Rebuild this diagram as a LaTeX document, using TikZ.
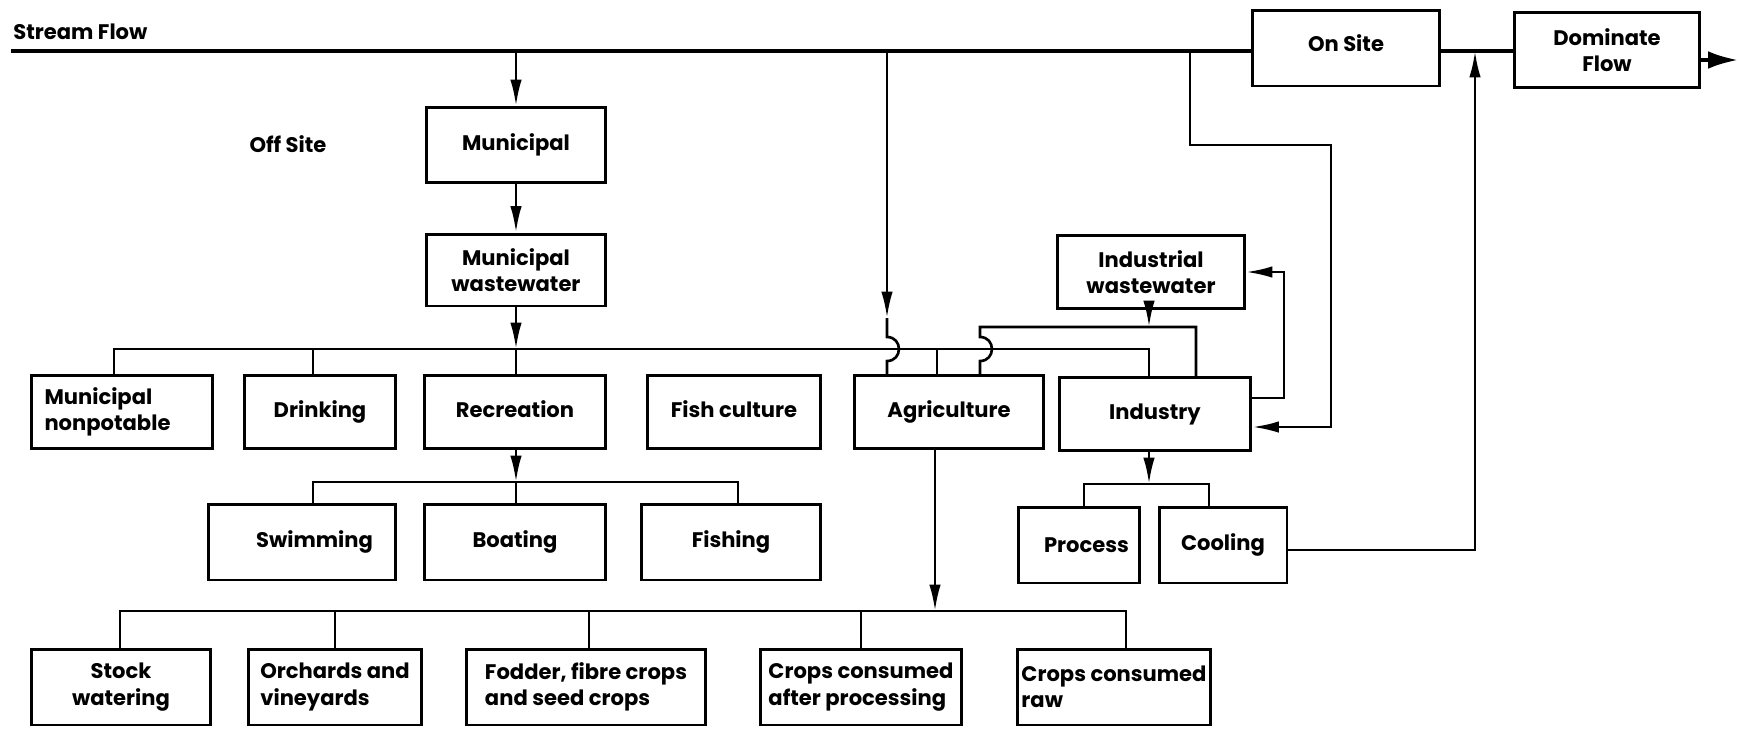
\documentclass[tikz,border=0pt]{standalone}
\usepackage{fontspec}
\setmainfont{Poppins}
\usetikzlibrary{arrows.meta}
\begin{document}
\begin{tikzpicture}[x=0.02cm,y=-0.02cm,line width=1.5pt,
  box/.style={draw,line width=1.7pt,inner sep=2pt,align=center,font=\bfseries\fontsize{12}{15}\selectfont},
  lbl/.style={font=\bfseries\fontsize{12}{15}\selectfont,inner sep=0pt},
  arr/.style={-{Latex[length=15pt,width=6.5pt]}},
  bigarr/.style={-{Latex[length=17pt,width=10pt]}},
  ]
\useasboundingbox (0,0) rectangle (1739,728);
% labels
\node[lbl,anchor=west] (sf) at (12,32) {Stream Flow};
\node[lbl] (offsite) at (288,144) {Off Site};
% top row
\node[box,minimum width=3.74cm,minimum height=1.52cm] (onsite) at (1346,48) {\raisebox{0.2cm}{On Site}};
\node[box,minimum width=3.7cm,minimum height=1.5cm] (dom) at (1607,50) {Dominate\\Flow};
\node[box,minimum width=3.6cm,minimum height=1.5cm] (mun) at (516,145) {Municipal};
\node[box,minimum width=3.6cm,minimum height=1.44cm] (munww) at (516,270) {Municipal\\wastewater};
\node[box,minimum width=3.74cm,minimum height=1.46cm] (indww) at (1151,272) {Industrial\\wastewater};
% row 2
\node[box,minimum width=3.64cm,minimum height=1.46cm,align=left] (nonpot) at (122,412) {\raisebox{0.1cm}{\parbox{3.1cm}{Municipal\\nonpotable}}};
\node[box,minimum width=3.04cm,minimum height=1.46cm] (drink) at (320,412) {\raisebox{0.1cm}{Drinking}};
\node[box,minimum width=3.62cm,minimum height=1.46cm] (recr) at (515,412) {\raisebox{0.1cm}{Recreation}};
\node[box,minimum width=3.46cm,minimum height=1.46cm] (fishc) at (734,412) {\raisebox{0.1cm}{Fish culture}};
\node[box,minimum width=3.8cm,minimum height=1.46cm] (agri) at (949,412) {\raisebox{0.1cm}{Agriculture}};
\node[box,minimum width=3.84cm,minimum height=1.46cm] (ind) at (1155,414) {\raisebox{0.1cm}{Industry}};
% row 3
\node[box,minimum width=3.76cm,minimum height=1.52cm] (swim) at (302,542) {\hspace{0.5cm}Swimming};
\node[box,minimum width=3.62cm,minimum height=1.52cm] (boat) at (515,542) {Boating};
\node[box,minimum width=3.58cm,minimum height=1.52cm] (fishing) at (731,542) {Fishing};
\node[box,minimum width=2.42cm,minimum height=1.52cm] (process) at (1079,545) {\hspace{0.3cm}Process};
\node[box,minimum width=2.56cm,minimum height=1.52cm] (cooling) at (1223,545) {Cooling};
% row 4
\node[box,minimum width=3.6cm,minimum height=1.52cm] (stock) at (121,687) {Stock\\watering};
\node[box,minimum width=3.46cm,minimum height=1.52cm,align=left] (orch) at (335,687) {Orchards and\\vineyards};
\node[box,minimum width=4.78cm,minimum height=1.52cm,align=left] (fodder) at (586,687) {Fodder, fibre crops\\and seed crops};
\node[box,minimum width=4.02cm,minimum height=1.52cm,align=left] (cafter) at (861,687) {Crops consumed\\after processing};
\node[box,minimum width=3.82cm,minimum height=1.52cm,align=left] (craw) at (1114,687) {Crops consumed\\raw\phantom{consumed}};
% coordinates
\coordinate (s0) at (11,51);
\coordinate (out) at (1738,60);
\coordinate (vm) at (516,51);
\coordinate (va) at (887,51);
\coordinate (vaT) at (887,318);
\coordinate (b1L) at (114,349);
\coordinate (b1R) at (1149,349);
\coordinate (b1m) at (516,349);
\coordinate (d2) at (313,349);
\coordinate (d5) at (937,349);
\coordinate (w1) at (980,327);
\coordinate (w2) at (1196,327);
\coordinate (wA) at (1149,327);
\coordinate (b2L) at (313,482);
\coordinate (b2R) at (738,482);
\coordinate (b2m) at (516,482);
\coordinate (b3L) at (1084,484);
\coordinate (b3R) at (1209,484);
\coordinate (b3m) at (1149,484);
\coordinate (b4L) at (120,611);
\coordinate (b4R) at (1126,611);
\coordinate (b4m) at (935,611);
\coordinate (d42) at (335,611);
\coordinate (d43) at (589,611);
\coordinate (d44) at (861,611);
\coordinate (o1) at (1190,51);
\coordinate (o2) at (1190,145);
\coordinate (o3) at (1331,145);
\coordinate (o4) at (1331,427);
\coordinate (r2) at (1284,398);
\coordinate (r3) at (1284,272);
\coordinate (c1) at (1475,550);
\coordinate (c2) at (1475,51);
% stream line
\draw[line width=2pt] (s0) -- (onsite.west |- s0);
\draw[line width=2pt] (onsite.east |- s0) -- (dom.west |- s0);
\draw[bigarr,line width=2pt] (dom.east |- out) -- (out);
% municipal chain
\draw[arr] (vm) -- (mun.north);
\draw[arr] (mun.south) -- (munww.north);
\draw[arr] (munww.south) -- (b1m);
\draw (b1m) -- (recr.north -| b1m);
% bus 1
\draw (nonpot.north -| b1L) -- (b1L) -- (b1R) -- (ind.north -| b1R);
\draw (d2) -- (drink.north -| d2);
\draw (d5) -- (agri.north -| d5);
% stream to agriculture with hop
\draw[arr] (va) -- (vaT);
\draw (vaT) -- (887,337) to[out=0,in=0,looseness=1.7] (887,361) -- (agri.north -| va);
% industrial wastewater
\draw[arr] (indww.south -| wA) -- (wA);
\draw (agri.north -| w1) -- (980,361) to[out=0,in=0,looseness=1.7] (980,337) -- (w1) -- (w2) -- (ind.north -| w2);
% recreation children
\draw[arr] (recr.south -| b2m) -- (b2m);
\draw (b2m) -- (boat.north -| b2m);
\draw (swim.north -| b2L) -- (b2L) -- (b2R) -- (fishing.north -| b2R);
% industry children
\draw[arr] (ind.south -| b3m) -- (b3m);
\draw (process.north -| b3L) -- (b3L) -- (b3R) -- (cooling.north -| b3R);
% agriculture children
\draw[arr] (agri.south -| b4m) -- (b4m);
\draw (stock.north -| b4L) -- (b4L) -- (b4R) -- (craw.north -| b4R);
\draw (d42) -- (orch.north -| d42);
\draw (d43) -- (fodder.north -| d43);
\draw (d44) -- (cafter.north -| d44);
% right loops
\draw[arr] (o1) -- (o2) -- (o3) -- (o4) -- (ind.east |- o4);
\draw[arr] (ind.east |- r2) -- (r2) -- (r3) -- (indww.east |- r3);
\draw[arr] (cooling.east |- c1) -- (c1) -- (c2);
\end{tikzpicture}
\end{document}
